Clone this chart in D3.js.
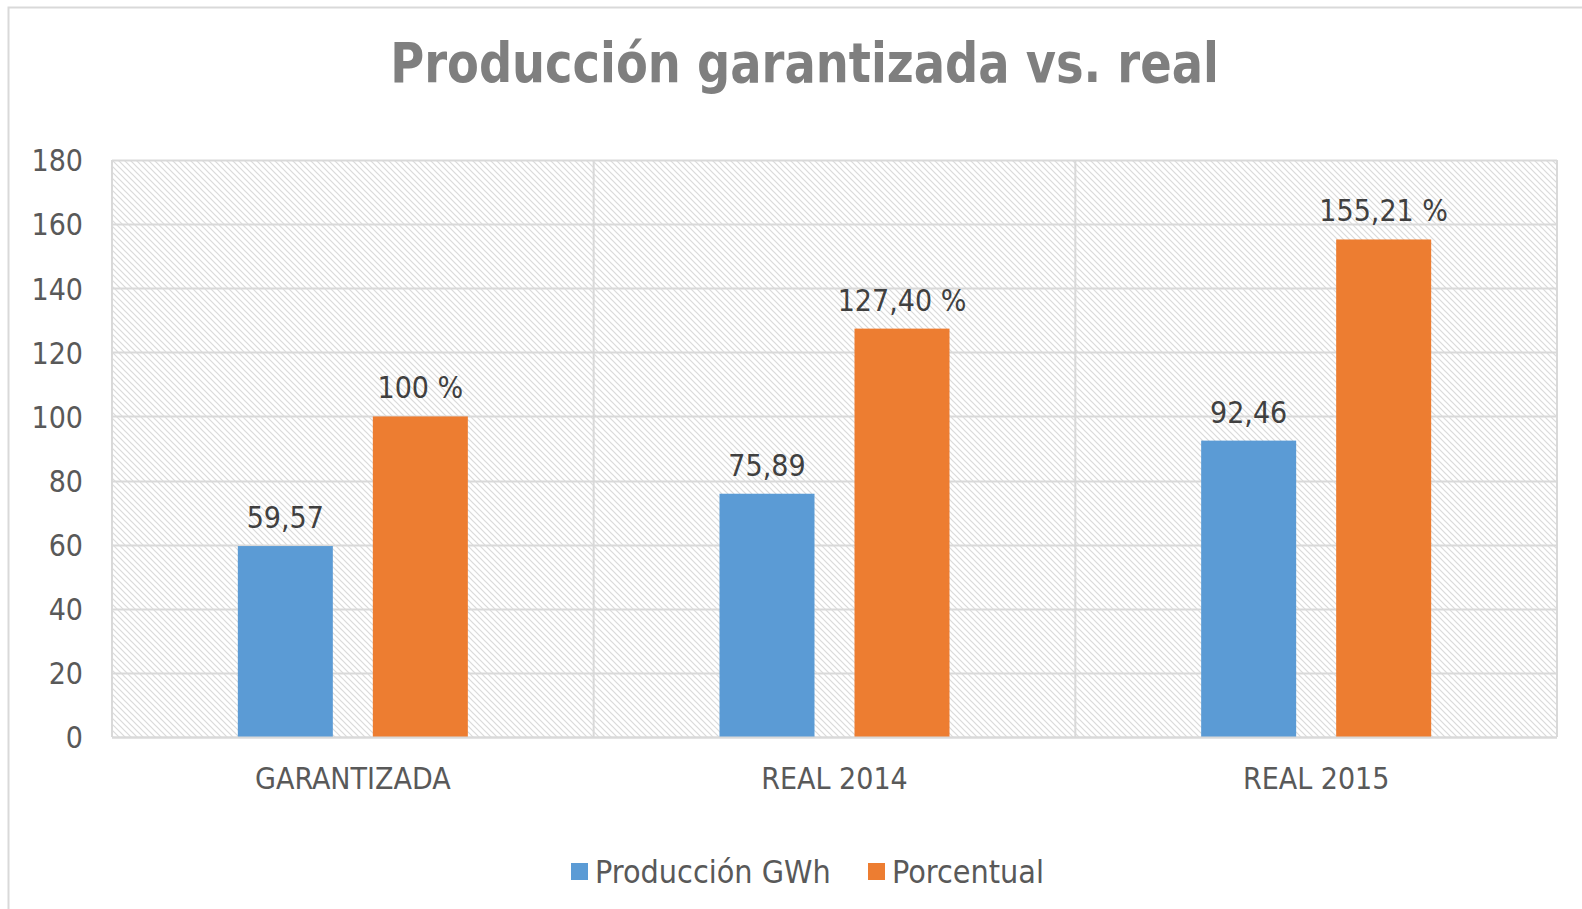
<!DOCTYPE html>
<html>
<head>
<meta charset="utf-8">
<script src="https://cdn.jsdelivr.net/npm/d3@7"></script>
<style>
  html, body { margin: 0; padding: 0; background: #fff; }
  svg { display: block; }
</style>
</head>
<body>
<svg id="chart" width="1582" height="909"></svg>
<script>
// ---- data ----
const categories = ["GARANTIZADA", "REAL 2014", "REAL 2015"];
const seriesNames = ["Producción GWh", "Porcentual"];
const produccion = [59.57, 75.89, 92.46];
const porcentual = [100, 127.40, 155.21];
const produccionLabels = ["59,57", "75,89", "92,46"];
const porcentualLabels = ["100 %", "127,40 %", "155,21 %"];
const yTicks = [0, 20, 40, 60, 80, 100, 120, 140, 160, 180];
const colors = ["#5b9bd5", "#ed7d31"];
const titleText = "Producción garantizada vs. real";

const seriesValues = [produccion, porcentual];
const seriesLabels = [produccionLabels, porcentualLabels];

const svg = d3.select("#chart");
const W = 1582, H = 909;
const font = "'DejaVu Sans Condensed', 'DejaVu Sans', sans-serif";

// chart area border
svg.append("rect").attr("x", 8.5).attr("y", 7.5).attr("width", W + 20).attr("height", H + 20)
  .attr("fill", "#fff").attr("stroke", "#d9d9d9").attr("stroke-width", 2);

// pattern
const defs = svg.append("defs");
const pat = defs.append("pattern").attr("id", "hatch").attr("patternUnits", "userSpaceOnUse")
  .attr("width", 6).attr("height", 6);
pat.append("rect").attr("width", 6).attr("height", 6).attr("fill", "#fff");
pat.append("path").attr("d", "M-1,-1 L7,7 M-1,5 L1,7 M5,-1 L7,1")
  .attr("stroke", "#dadada").attr("stroke-width", 1.2);

const plot = { left: 112, right: 1557, top: 160, bottom: 737 };

const x0 = d3.scaleBand().domain(categories).range([plot.left, plot.right]).padding(0);
const x1 = d3.scaleBand().domain(seriesNames).range([0, x0.bandwidth()])
  .paddingInner(40 / 135).paddingOuter(0.932);
const y = d3.scaleLinear().domain([0, 180]).range([plot.bottom, plot.top]);

// plot area background
svg.append("rect").attr("x", plot.left).attr("y", plot.top)
  .attr("width", plot.right - plot.left).attr("height", plot.bottom - plot.top)
  .attr("fill", "url(#hatch)");

// horizontal gridlines
svg.append("g").selectAll("line").data(yTicks).join("line")
  .attr("x1", plot.left).attr("x2", plot.right)
  .attr("y1", d => Math.round(y(d)) + 0.5).attr("y2", d => Math.round(y(d)) + 0.5)
  .attr("stroke", "#d9d9d9").attr("stroke-width", 2);

// vertical category gridlines
const vlines = categories.map(c => x0(c)).concat([plot.right]);
svg.append("g").selectAll("line").data(vlines).join("line")
  .attr("x1", d => d).attr("x2", d => d)
  .attr("y1", plot.top).attr("y2", plot.bottom)
  .attr("stroke", "#d9d9d9").attr("stroke-width", 2);

// bars
const groups = svg.append("g").selectAll("g").data(categories).join("g")
  .attr("transform", c => `translate(${x0(c)},0)`);
seriesNames.forEach((s, si) => {
  groups.append("rect")
    .attr("x", x1(s))
    .attr("width", x1.bandwidth())
    .attr("y", (c, i) => y(seriesValues[si][i]))
    .attr("height", (c, i) => y(0) - y(seriesValues[si][i]))
    .attr("fill", colors[si]);
  groups.append("text")
    .attr("x", x1(s) + x1.bandwidth() / 2)
    .attr("y", (c, i) => y(seriesValues[si][i]) - 18)
    .attr("text-anchor", "middle")
    .attr("font-family", font).attr("font-size", 30).attr("fill", "#404040")
    .text((c, i) => seriesLabels[si][i]);
});

// x axis line
svg.append("line").attr("x1", plot.left).attr("x2", plot.right)
  .attr("y1", plot.bottom + 0.5).attr("y2", plot.bottom + 0.5)
  .attr("stroke", "#d9d9d9").attr("stroke-width", 2);

// y axis labels
const yAxis = d3.axisLeft(y).tickValues(yTicks).tickSize(0).tickPadding(0);
const yg = svg.append("g").attr("transform", `translate(83,0)`).call(yAxis);
yg.select(".domain").remove();
yg.selectAll("text").attr("font-family", font).attr("font-size", 30).attr("fill", "#595959")
  .attr("dy", "0.36em");

// x axis labels
const xAxis = d3.axisBottom(x0).tickSize(0).tickPadding(0);
const xg = svg.append("g").attr("transform", `translate(0,789)`).call(xAxis);
xg.select(".domain").remove();
xg.selectAll("text").attr("font-family", font).attr("font-size", 30).attr("fill", "#595959")
  .attr("dy", 0).attr("y", 0);

// title
const title = svg.append("text").attr("x", 0).attr("y", 0)
  .attr("font-family", font).attr("font-weight", "bold").attr("font-size", 55)
  .attr("fill", "#7f7f7f").attr("text-anchor", "middle").text(titleText);
const tw = title.node().getComputedTextLength();
const targetW = 829;
title.attr("transform", `translate(804.5,82) scale(${targetW / tw},1)`);

// legend
const legendX = [571, 868];
const legend = svg.append("g").selectAll("g").data(seriesNames).join("g")
  .attr("transform", (d, i) => `translate(${legendX[i]},863)`);
legend.append("rect").attr("width", 17).attr("height", 17).attr("fill", (d, i) => colors[i]);
legend.append("text").attr("x", 24).attr("y", 20)
  .attr("font-family", font).attr("font-size", 32).attr("fill", "#595959")
  .text(d => d);
</script>
</body>
</html>
